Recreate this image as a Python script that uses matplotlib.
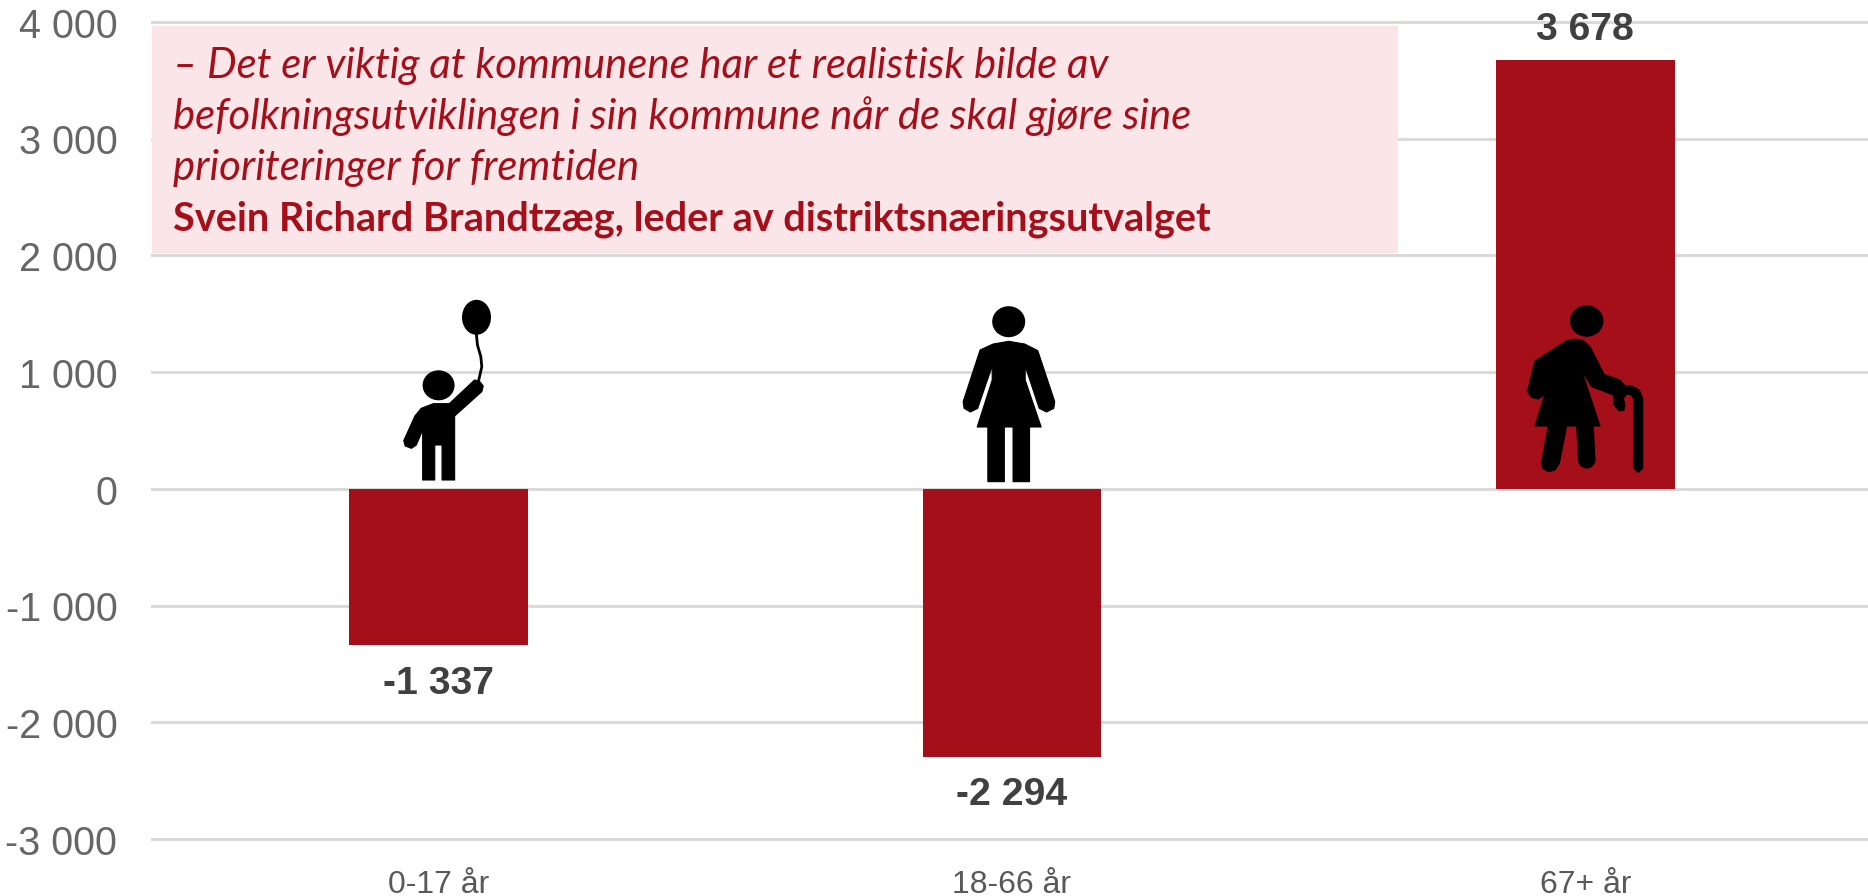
import matplotlib
matplotlib.use("Agg")
import matplotlib.pyplot as plt
from matplotlib.patches import Ellipse, Polygon, Rectangle
from matplotlib.transforms import ScaledTranslation

W, H = 1868, 896

categories = ["0-17 år", "18-66 år", "67+ år"]
values = [-1337, -2294, 3678]
value_labels = ["-1 337", "-2 294", "3 678"]
y_ticks = [-3000, -2000, -1000, 0, 1000, 2000, 3000, 4000]
y_tick_labels = ["-3 000", "-2 000", "-1 000", "0", "1 000", "2 000", "3 000", "4 000"]
quote_lines = [
    "– Det er viktig at kommunene har et realistisk bilde av",
    "befolkningsutviklingen i sin kommune når de skal gjøre sine",
    "prioriteringer for fremtiden",
]
quote_source = "Svein Richard Brandtzæg, leder av distriktsnæringsutvalget"

RED = "#a50f1a"
plt.rcParams["font.family"] = ["Liberation Sans", "DejaVu Sans"]

fig = plt.figure(figsize=(W / 100, H / 100), dpi=100)

# axes runs slightly past the right edge, like the cropped original
ax = fig.add_axes([152 / W, 1 - 839 / H, 1720 / W, 817 / H])
ax.set_xlim(-0.5, 2.5)
ax.set_ylim(-3000, 4000)
ax.bar(range(3), values, width=0.312, color=RED, zorder=3)
ax.set_yticks(y_ticks, y_tick_labels, fontsize=28.5, color="#666666")
ax.set_xticks(range(3), categories, fontsize=23, color="#595959")
ax.tick_params(length=0)
ax.tick_params(axis="y", pad=25)
ax.tick_params(axis="x", pad=22)
ax.grid(True, axis="y", color="#d9d9d9", lw=2.1, zorder=1, clip_on=False)
ax.set_axisbelow(True)
for s in ax.spines.values():
    s.set_visible(False)

# tick labels sit a little under their gridlines in the original
nudge = ScaledTranslation(0, -0.5 / 72, fig.dpi_scale_trans)
for lab in ax.get_yticklabels():
    lab.set_transform(lab.get_transform() + nudge)

for i, (v, lab) in enumerate(zip(values, value_labels)):
    off = 21.5 if v > 0 else -28
    ax.annotate(lab, (i, v), xytext=(0, off), textcoords="offset points",
                ha="center", va="center", fontsize=28.2, fontweight="bold",
                color="#404040", zorder=5)

# overlay in pixel coordinates for the quote box and pictograms
ov = fig.add_axes([0, 0, 1, 1])
ov.set_xlim(0, W)
ov.set_ylim(H, 0)
ov.axis("off")
ov.patch.set_alpha(0)

ov.add_patch(Rectangle((152, 26), 1246, 227, color="#fae6e8", lw=0))
for y, line in zip([78, 129, 180], quote_lines):
    ov.text(173, y, line, family="Lato", style="italic", fontsize=30.2,
            color=RED, va="baseline")
ov.text(173, 231, quote_source, family="Lato", fontweight="bold", fontsize=28.5,
        color=RED, va="baseline")


def child_xy(p):
    return [(380 + x / 2.063, 280 + y / 3) for x, y in p]


def elder_xy(p):
    return [(1480 + x / 3, 280 + y / 3) for x, y in p]


child_body = [(88, 600), (113, 600), (113, 495), (128, 495), (128, 600), (154, 600),
              (154, 408), (210, 335), (213, 318), (205, 303), (195, 300), (143, 371),
              (110, 371), (85, 385), (72, 408), (49, 482), (52, 498), (65, 505),
              (75, 495), (88, 450)]
balloon_string = [(199, 165), (201, 195), (208, 230), (210, 260), (203, 305)]
woman_body = [(1254, 605), (1288, 605), (1288, 441), (1306, 441), (1306, 605), (1340, 605),
              (1340, 441), (1364, 441), (1331, 300), (1331, 258), (1360, 385), (1375, 396),
              (1390, 385), (1392, 365), (1357, 212), (1330, 192), (1297, 184), (1265, 192),
              (1238, 210), (1203, 365), (1205, 385), (1218, 396), (1233, 385), (1263, 258),
              (1263, 300), (1232, 441), (1254, 441)]
elder_body = [(165, 438), (218, 268), (192, 345), (175, 357), (155, 352), (142, 335),
              (165, 243), (260, 182), (285, 177), (310, 182), (330, 200), (372, 283),
              (420, 300), (435, 318), (455, 318), (478, 330), (488, 355), (488, 565),
              (475, 577), (462, 565), (462, 360), (455, 345), (440, 342), (430, 355),
              (435, 375), (432, 390), (418, 393), (402, 375), (400, 345), (335, 320),
              (305, 272), (360, 438), (340, 438), (345, 545), (335, 560), (320, 565),
              (303, 558), (296, 545), (290, 438), (260, 438), (238, 550), (225, 570),
              (205, 575), (188, 565), (185, 545), (205, 438)]

for pts in [child_xy(child_body), child_xy(woman_body), elder_xy(elder_body)]:
    ov.add_patch(Polygon(pts, facecolor="black", edgecolor="black", lw=0.8, joinstyle="round"))
ov.add_patch(Ellipse((438.6, 385.3), 32, 30, color="black", lw=0))
ov.add_patch(Ellipse((476.5, 317.3), 29, 35, color="black", lw=0))
ov.add_patch(Ellipse((1008.7, 321.7), 33, 31, color="black", lw=0))
ov.add_patch(Ellipse((1586.7, 321), 33.5, 31.5, color="black", lw=0))
xs, ys = zip(*child_xy(balloon_string))
ov.plot(xs, ys, color="black", lw=2)

fig.savefig("out.png", dpi=100, facecolor="white")
